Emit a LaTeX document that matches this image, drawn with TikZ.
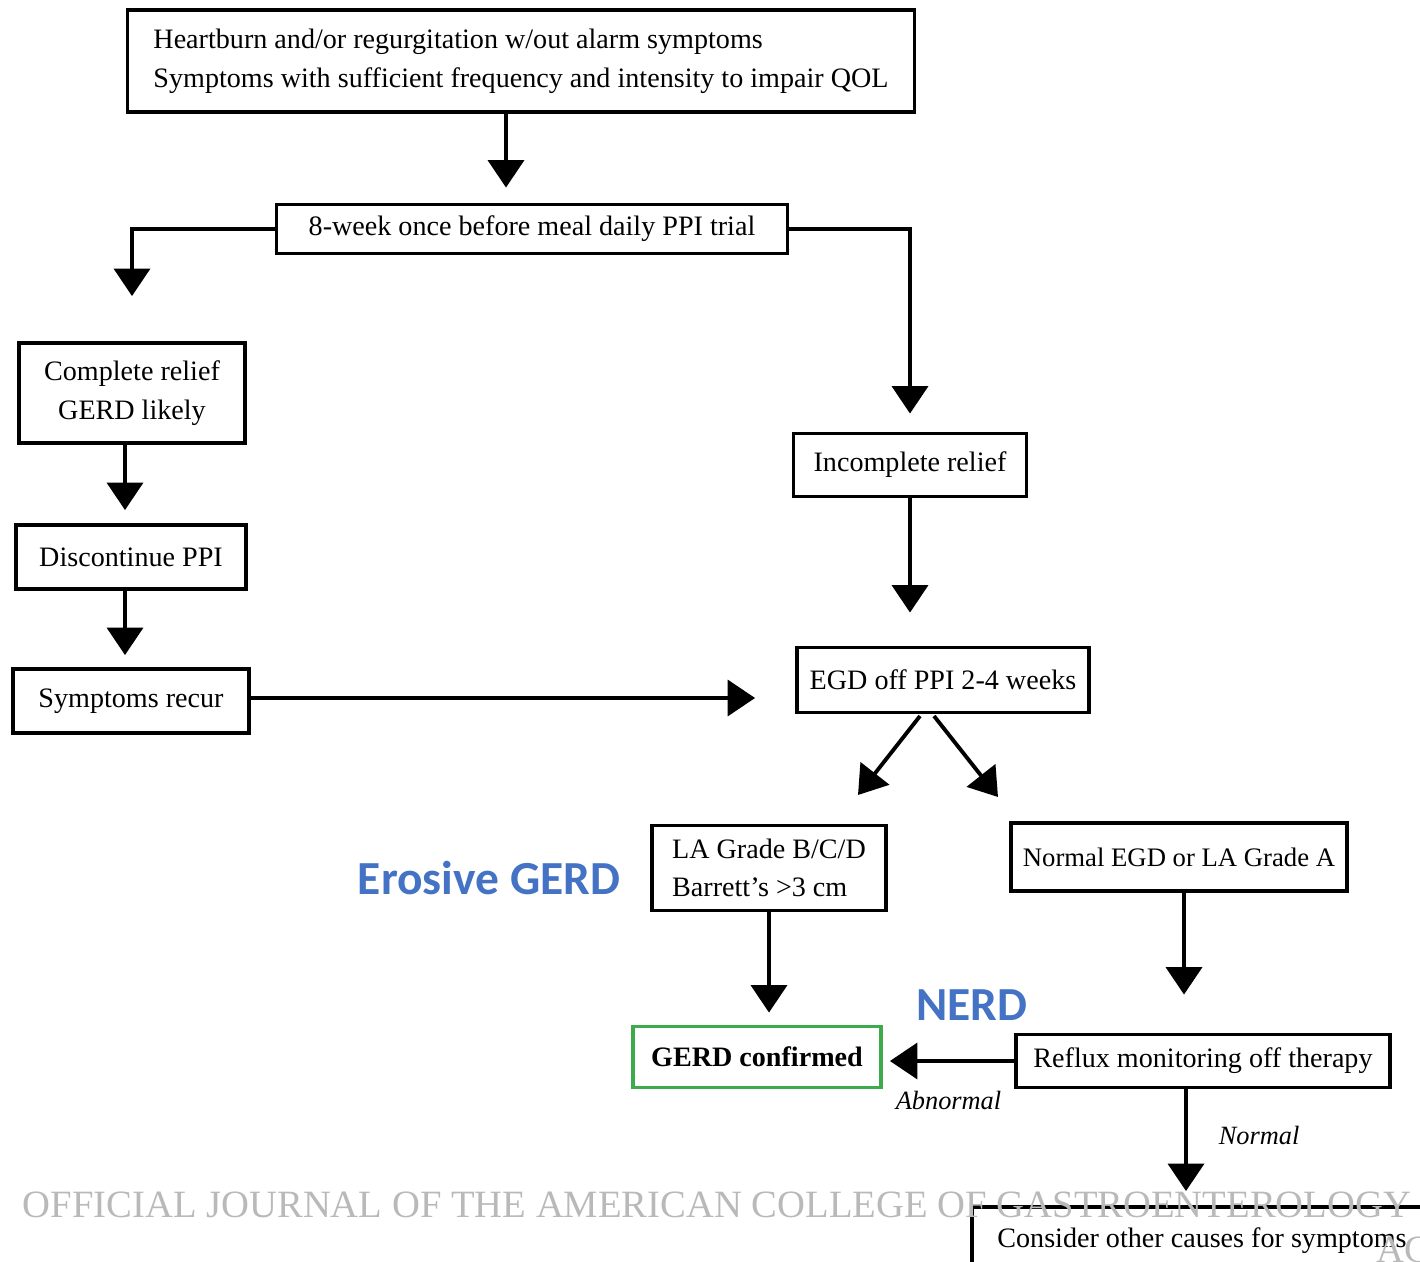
\documentclass[tikz,border=0pt]{standalone}
\usepackage{fontspec}
\setmainfont{Liberation Serif}
\newfontfamily\calib{Carlito}
\usepackage{tikz}
\usetikzlibrary{arrows.meta, positioning}
\definecolor{accblue}{HTML}{4472C4}
\definecolor{okgreen}{HTML}{3DAA4C}

\begin{document}
\begin{tikzpicture}[
    box/.style={rectangle, draw, line width=2.2pt, align=center, inner sep=0pt, font=\fontsize{16}{22}\selectfont},
    okbox/.style={box, draw=okgreen, font=\fontsize{16}{22}\selectfont\bfseries},
    flow/.style={-{Triangle[length=0.55cm, width=0.72cm]}, line width=2.2pt},
    tag/.style={font=\calib\fontsize{27}{30}\selectfont\bfseries, text=accblue},
    note/.style={font=\fontsize{15}{18}\selectfont\itshape},
    stamp/.style={font=\fontsize{22}{24}\selectfont, text=gray!55},
]
    \useasboundingbox (0,0) rectangle (28.4,-25.24);
    \clip (0,0) rectangle (28.4,-25.24);

    \node[box, minimum width=15.74cm, minimum height=2.04cm, align=left] (top) at (10.42,-1.22)
        {Heartburn and/or regurgitation w/out alarm symptoms\\Symptoms with sufficient frequency and intensity to impair QOL};
    \node[box, minimum width=10.22cm, minimum height=0.98cm] (ppi) at (10.64,-4.58) {8-week once before meal daily PPI trial};

    % left branch
    \node[box, minimum width=4.52cm, minimum height=2.0cm] (relief) at (2.64,-7.86) {Complete relief\\GERD likely};
    \node[box, minimum width=4.6cm, minimum height=1.28cm] (stop) at (2.62,-11.14) {Discontinue PPI};
    \node[box, minimum width=4.72cm, minimum height=1.28cm] (recur) at (2.62,-14.02) {Symptoms recur};

    % right branch
    \node[box, minimum width=4.66cm, minimum height=1.26cm] (partial) at (18.2,-9.3) {Incomplete relief};
    \node[box, minimum width=5.84cm, minimum height=1.3cm] (egd) at (18.86,-13.6) {EGD off PPI 2-4 weeks};
    \node[box, minimum width=4.68cm, minimum height=1.7cm, align=left] (grade) at (15.38,-17.36) {LA Grade B/C/D\\Barrett's >3 cm};
    \node[box, minimum width=6.72cm, minimum height=1.36cm, font=\fontsize{15.2}{20}\selectfont] (normal) at (23.58,-17.14) {Normal EGD or LA Grade A};
    \node[okbox, minimum width=4.96cm, minimum height=1.22cm] (confirmed) at (15.14,-21.14) {GERD confirmed};
    \node[box, minimum width=7.48cm, minimum height=1.06cm] (reflux) at (24.06,-21.22) {Reflux monitoring off therapy};
    \node[box, minimum width=9.2cm, minimum height=1.36cm] (other) at (24.04,-24.82) {Consider other causes for symptoms};

    \node[tag] (erosive) at (9.78,-17.56) {Erosive GERD};
    \node[tag] (nerd) at (19.44,-20.1) {NERD};

    \coordinate (egdL) at (18.4,-14.32);
    \coordinate (egdR) at (18.68,-14.32);
    \coordinate (toGrade) at (17.16,-15.9);
    \coordinate (toNormal) at (19.96,-15.94);

    \draw[flow, shorten >=0.3cm] ([xshift=-0.3cm]top.south) -- ([xshift=-0.52cm]ppi.north);
    \draw[flow, shorten >=0.9cm] (ppi.west) -| (relief.north);
    \draw[flow, shorten >=0.36cm] (ppi.east) -| (partial.north);
    \draw[flow, shorten >=0.26cm] ([xshift=-0.14cm]relief.south) -- ([xshift=-0.12cm]stop.north);
    \draw[flow, shorten >=0.24cm] ([xshift=-0.12cm]stop.south) -- ([xshift=-0.12cm]recur.north);
    \draw[flow, shorten >=0.8cm] ([yshift=0.06cm]recur.east) -- ([yshift=0.06cm]recur.east -| egd.west);
    \draw[flow, shorten >=0.66cm] (partial.south) -- (partial.south |- egd.north);
    \draw[flow] (egdL) -- (toGrade);
    \draw[flow] (egdR) -- (toNormal);
    \draw[flow, shorten >=0.24cm] (grade.south) -- (grade.south |- confirmed.north);
    \draw[flow, shorten >=0.76cm] ([xshift=0.1cm]normal.south) -- ([xshift=0.1cm]normal.south |- reflux.north);
    \draw[flow, shorten >=0.14cm] (reflux.west) -- node[note, below=0.45cm] {Abnormal} (reflux.west -| confirmed.east);
    \draw[flow, shorten >=0.28cm] ([xshift=-0.34cm]reflux.south) -- node[note, right=0.5cm, pos=0.4] {Normal} ([xshift=-0.34cm]reflux.south |- other.north);

    % watermark
    \node[stamp] (journal) at (14.34,-24.1) {OFFICIAL JOURNAL OF THE AMERICAN COLLEGE OF GASTROENTEROLOGY};
    \node[stamp, anchor=west] (acg) at (27.4,-25.0) {ACG};
\end{tikzpicture}
\end{document}
